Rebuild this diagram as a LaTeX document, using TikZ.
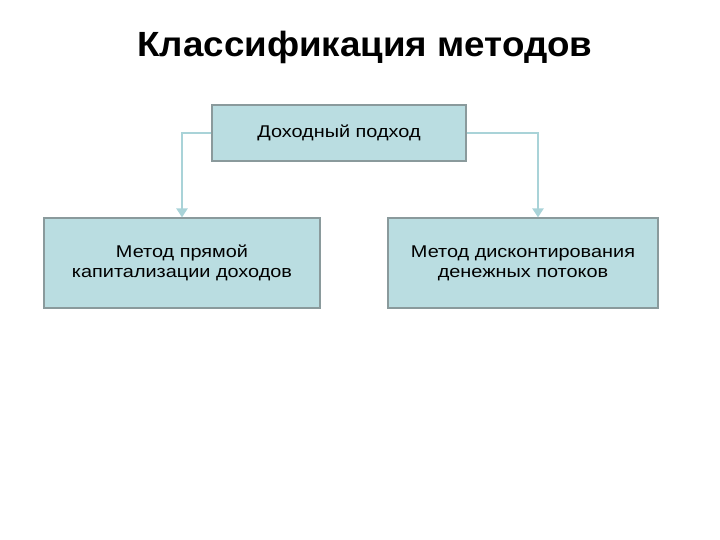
\documentclass[tikz,border=0pt]{standalone}
\usepackage{fontspec}
\setmainfont{Liberation Sans}
\usetikzlibrary{arrows.meta}
\definecolor{boxfill}{HTML}{BADDE1}
\definecolor{boxline}{HTML}{8A9A9C}
\definecolor{arrowc}{HTML}{A9D3D8}
\newfontfamily\boxfont[FakeStretch=1.17]{Liberation Sans}
\newfontfamily\titlefont[FakeStretch=1.05]{Liberation Sans}
\tikzset{
  box/.style={draw=boxline, line width=1.2pt, fill=boxfill, align=center, font=\boxfont\fontsize{17}{20}\selectfont, inner sep=0pt},
  conn/.style={draw=arrowc, line width=2.4pt, -{Triangle[width=11pt,length=9pt]}}
}
\begin{document}
\begin{tikzpicture}[x=1pt,y=-1pt]
\useasboundingbox (0,0) rectangle (720,540);
\node[font=\titlefont\fontsize{35}{40}\selectfont\bfseries] (title) at (365,47) {Классификация методов};
\node[box, minimum width=254pt, minimum height=56pt] (top) at (339,133) {Доходный подход};
\node[box, minimum width=276pt, minimum height=90pt] (left) at (182,263) {Метод прямой\\капитализации доходов};
\node[box, minimum width=270pt, minimum height=90pt] (right) at (523,263) {Метод дисконтирования\\денежных потоков};
\coordinate (lc) at (182,133);
\coordinate (rc) at (538,133);
\draw[conn] (top.west) -- (lc) -- (lc |- left.north);
\draw[conn] (top.east) -- (rc) -- (rc |- right.north);
\end{tikzpicture}
\end{document}
